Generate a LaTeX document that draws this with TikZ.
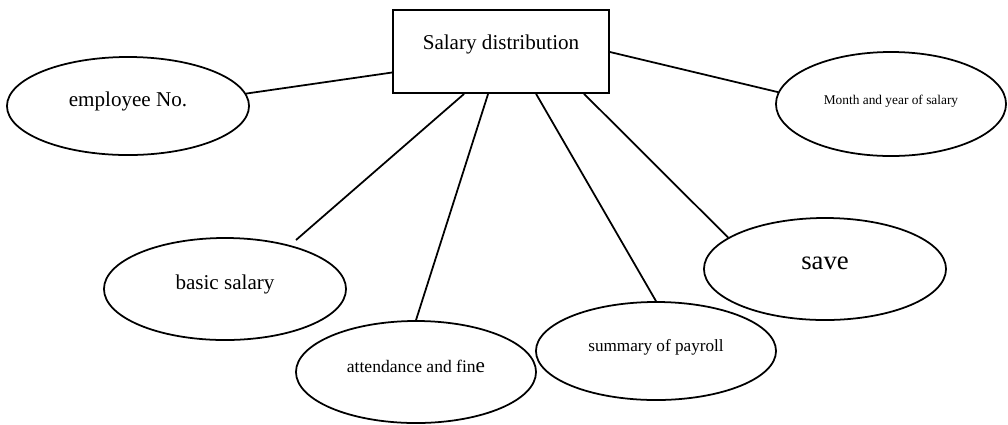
\documentclass[tikz,border=0pt]{standalone}
\usepackage{fontspec}
\setmainfont{Liberation Serif}
\usetikzlibrary{shapes.geometric,calc}
\begin{document}
\begin{tikzpicture}[x=0.025cm,y=-0.025cm,line width=1.25pt,
    entity/.style={draw,rectangle,minimum width=5.4cm,minimum height=2.075cm,
      text height=0.4cm,text depth=0.5cm,font=\fontsize{15}{18}\selectfont},
    attr/.style={draw,ellipse,inner sep=0pt,text height=0.35cm,text depth=0.35cm}]
  \useasboundingbox (0,0) rectangle (1008,424);
  \draw
    (501,51.5) node[entity] (sal){Salary distribution}
    (128,106) node[attr,minimum width=6.05cm,minimum height=2.45cm,
      font=\fontsize{15}{18}\selectfont] (emp){employee No.}
    (891,104) node[attr,minimum width=5.75cm,minimum height=2.6cm,
      font=\fontsize{9.5}{11}\selectfont] (mon){Month and year of salary}
    (225,289) node[attr,minimum width=6.05cm,minimum height=2.55cm,
      font=\fontsize{15}{18}\selectfont] (bas){basic salary}
    (416,372) node[attr,minimum width=6.0cm,minimum height=2.55cm,
      font=\fontsize{12.5}{15}\selectfont] (att){attendance and fin{\fontsize{15}{18}\selectfont e}}
    (656,351) node[attr,minimum width=6.0cm,minimum height=2.45cm,
      font=\fontsize{12.2}{15}\selectfont] (sum){summary of payroll}
    (825,269) node[attr,minimum width=6.05cm,minimum height=2.55cm,
      font=\fontsize{19}{23}\selectfont] (sav){save};
  \coordinate (basend) at ($(bas)+(71,-49)$);
  \begin{scope}[-]
    \draw (emp.6) to ($(sal.west)+(0,21)$);
    \draw ($(sal.east)+(0,0.5)$) to (mon.174);
    \draw ($(sal.south west)+(72,0)$) to (basend);
    \draw ($(sal.south west)+(96,0)$) to (att.north);
    \draw ($(sal.south west)+(144,0)$) to (sum.north);
    \draw ($(sal.south west)+(192,0)$) to (sav.162);
  \end{scope}
\end{tikzpicture}
\end{document}
